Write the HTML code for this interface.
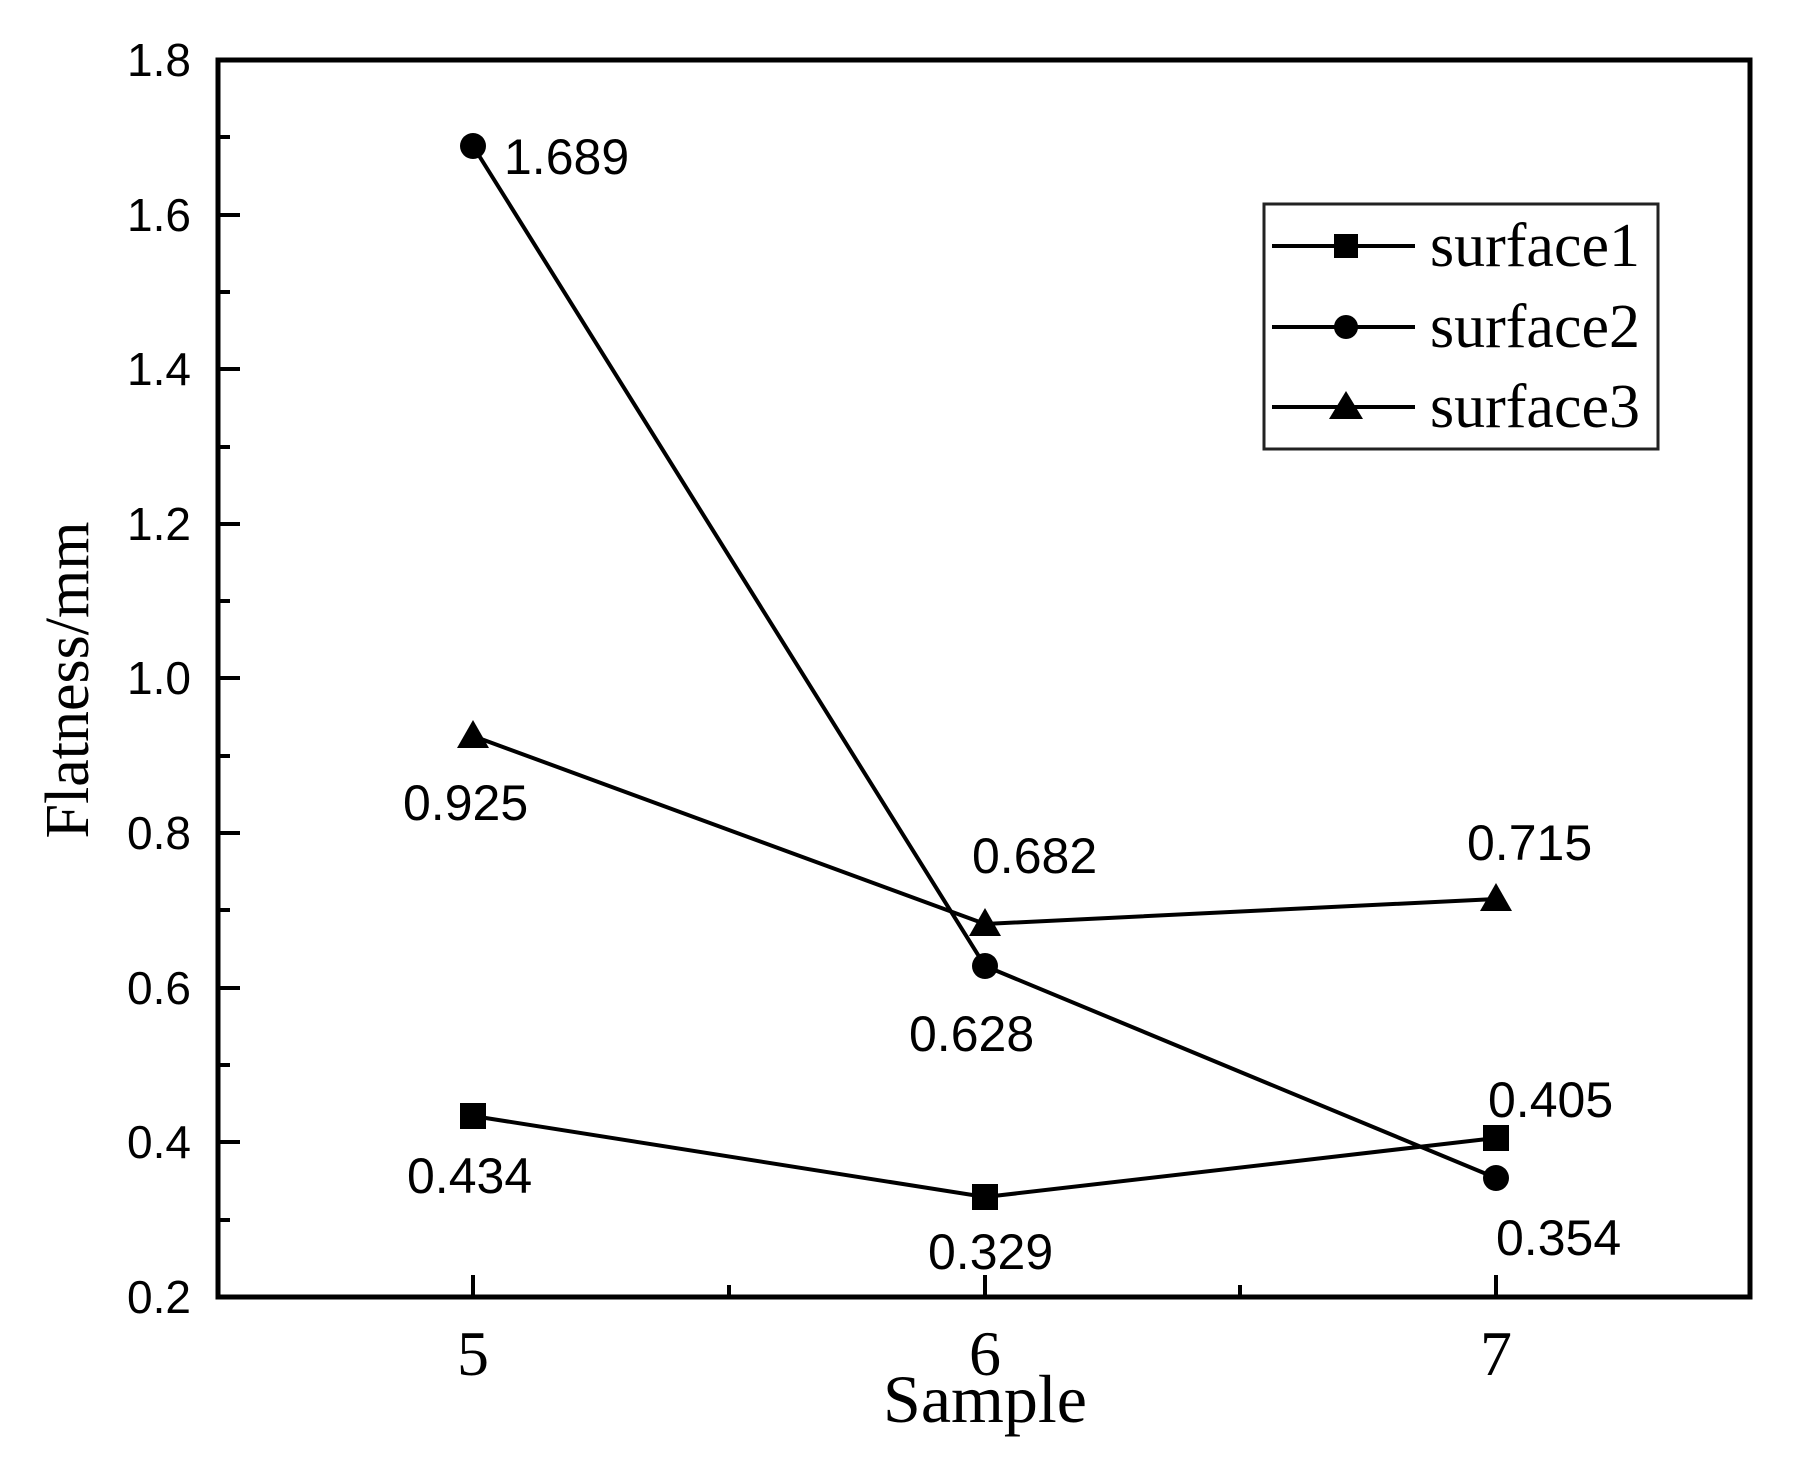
<!DOCTYPE html>
<html><head><style>body{margin:0;background:#fff}svg{display:block}</style></head>
<body>
<svg width="1794" height="1458" viewBox="0 0 1794 1458" xmlns="http://www.w3.org/2000/svg">
<rect width="1794" height="1458" fill="#fff"/>
<rect x="218" y="60" width="1532" height="1237" stroke="#000" stroke-width="5" fill="none"/>
<g stroke="#000" stroke-width="4">
<line x1="218" y1="60" x2="240" y2="60"/><line x1="218" y1="137" x2="230" y2="137"/>
<line x1="218" y1="215" x2="240" y2="215"/><line x1="218" y1="292" x2="230" y2="292"/>
<line x1="218" y1="369" x2="240" y2="369"/><line x1="218" y1="447" x2="230" y2="447"/>
<line x1="218" y1="524" x2="240" y2="524"/><line x1="218" y1="601" x2="230" y2="601"/>
<line x1="218" y1="678" x2="240" y2="678"/><line x1="218" y1="756" x2="230" y2="756"/>
<line x1="218" y1="833" x2="240" y2="833"/><line x1="218" y1="910" x2="230" y2="910"/>
<line x1="218" y1="988" x2="240" y2="988"/><line x1="218" y1="1065" x2="230" y2="1065"/>
<line x1="218" y1="1142" x2="240" y2="1142"/><line x1="218" y1="1220" x2="230" y2="1220"/>
<line x1="473" y1="1297" x2="473" y2="1275"/><line x1="729" y1="1297" x2="729" y2="1285"/>
<line x1="985" y1="1297" x2="985" y2="1275"/><line x1="1240" y1="1297" x2="1240" y2="1285"/>
<line x1="1496" y1="1297" x2="1496" y2="1275"/>
</g>
<g font-family="Liberation Sans, sans-serif" font-size="46" text-anchor="end">
<text x="191" y="76">1.8</text><text x="191" y="231">1.6</text><text x="191" y="385">1.4</text>
<text x="191" y="540">1.2</text><text x="191" y="694">1.0</text><text x="191" y="849">0.8</text>
<text x="191" y="1004">0.6</text><text x="191" y="1158">0.4</text><text x="191" y="1313">0.2</text>
</g>
<g font-family="Liberation Serif, serif" font-size="64" text-anchor="middle">
<text x="473" y="1375">5</text><text x="985" y="1375">6</text><text x="1496" y="1375">7</text>
<text x="985" y="1422" font-size="68">Sample</text>
<text transform="translate(88,680) rotate(-90)" font-size="62">Flatness/mm</text>
</g>
<g stroke="#000" stroke-width="4" fill="none">
<polyline points="473,1116 985,1197 1496,1138"/>
<polyline points="473,146 985,966 1496,1178"/>
<polyline points="473,736 985,924 1496,899"/>
</g>
<g fill="#000">
<rect x="460" y="1103" width="26" height="26"/><rect x="972" y="1184" width="26" height="26"/><rect x="1483" y="1125" width="26" height="26"/>
<circle cx="473" cy="146" r="13"/><circle cx="985" cy="966" r="13"/><circle cx="1496" cy="1178" r="13"/>
<polygon points="473,720 489,748 457,748"/><polygon points="985,908 1001,936 969,936"/><polygon points="1496,883 1512,911 1480,911"/>
</g>
<g font-family="Liberation Sans, sans-serif" font-size="50">
<text x="504" y="174">1.689</text><text x="403" y="820">0.925</text>
<text x="972" y="873">0.682</text><text x="1467" y="860">0.715</text>
<text x="909" y="1051">0.628</text><text x="1488" y="1117">0.405</text>
<text x="407" y="1193">0.434</text><text x="928" y="1269">0.329</text>
<text x="1496" y="1255">0.354</text>
</g>
<rect x="1264" y="204" width="394" height="245" fill="#fff" stroke="#222" stroke-width="3"/>
<g stroke="#000" stroke-width="4">
<line x1="1272" y1="246" x2="1415" y2="246"/><line x1="1272" y1="327" x2="1415" y2="327"/><line x1="1272" y1="407" x2="1415" y2="407"/>
</g>
<g fill="#000">
<rect x="1334" y="234" width="24" height="24"/><circle cx="1346" cy="327" r="12"/>
<polygon points="1346,391 1363,419 1329,419"/>
</g>
<g font-family="Liberation Serif, serif" font-size="62">
<text x="1430" y="266">surface1</text><text x="1430" y="347">surface2</text><text x="1430" y="427">surface3</text>
</g>
</svg>
</body></html>
